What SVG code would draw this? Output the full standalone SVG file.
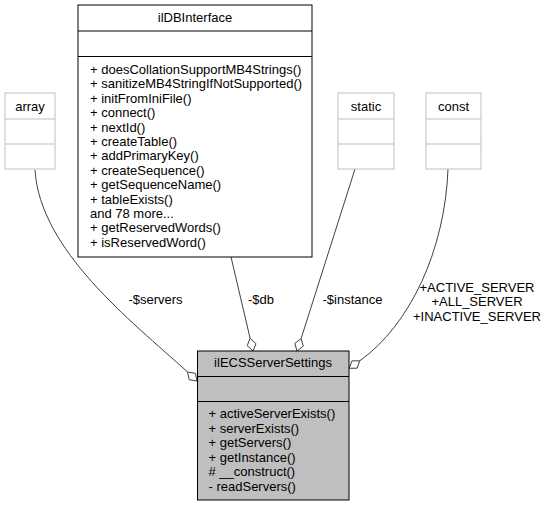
<svg xmlns="http://www.w3.org/2000/svg" width="549" height="507" viewBox="0 0 549 507">
<style>
text{font-family:"Liberation Sans",Arial,sans-serif;font-size:13px;fill:#000}
.c{text-anchor:middle}
.gbox{fill:#fff;stroke:#bfbfbf;stroke-width:1}
.bbox{fill:#fff;stroke:#000;stroke-width:1}
.main{fill:#bfbfbf;stroke:#000;stroke-width:1}
.edge{fill:none;stroke:#404040;stroke-width:1}
.dia{fill:#fff;stroke:#404040;stroke-width:1}
</style>
<rect width="549" height="507" fill="#fff"/>
<g id="connectors">
<path class="edge" d="M35,170 C40,250 130,320 187.6,372"/>
<polygon class="dia" points="187.6,372 195.4,373.3 197,381 189.2,379.7"/>
<path class="edge" d="M231,257 L250.1,338.3"/>
<polygon class="dia" points="250.1,338.3 256,343.7 253,351 247.2,345.7"/>
<path class="edge" d="M355,169 L301.1,338.6"/>
<polygon class="dia" points="301.1,338.6 303.3,346.2 297,351 294.8,343.4"/>
<path class="edge" d="M448,169 C445,250 410,325 359.8,360.8"/>
<polygon class="dia" points="359.8,360.8 357.1,368.2 349.2,368.3 351.9,360.9"/>
<text class="c" x="155.5" y="304">-$servers</text>
<text class="c" x="261" y="304">-$db</text>
<text class="c" x="352.5" y="304">-$instance</text>
<text class="c" x="477" y="291.5">+ACTIVE_SERVER</text>
<text class="c" x="477" y="306">+ALL_SERVER</text>
<text class="c" x="477" y="321">+INACTIVE_SERVER</text>
</g>
<g id="array">
<rect class="gbox" x="5" y="93" width="50" height="76"/>
<line class="gbox" x1="5" y1="119" x2="55" y2="119"/>
<line class="gbox" x1="5" y1="144" x2="55" y2="144"/>
<text class="c" x="30" y="110.5">array</text>
</g>
<g id="ilDBInterface">
<rect class="bbox" x="78" y="5" width="234" height="252"/>
<line class="bbox" x1="78" y1="31" x2="312" y2="31"/>
<line class="bbox" x1="78" y1="56.5" x2="312" y2="56.5"/>
<text class="c" x="195" y="21.5">ilDBInterface</text>
<text x="90" y="74">+ doesCollationSupportMB4Strings()</text>
<text x="90" y="88.4">+ sanitizeMB4StringIfNotSupported()</text>
<text x="90" y="102.8">+ initFromIniFile()</text>
<text x="90" y="117.2">+ connect()</text>
<text x="90" y="131.6">+ nextId()</text>
<text x="90" y="146">+ createTable()</text>
<text x="90" y="160.4">+ addPrimaryKey()</text>
<text x="90" y="174.8">+ createSequence()</text>
<text x="90" y="189.2">+ getSequenceName()</text>
<text x="90" y="203.6">+ tableExists()</text>
<text x="90" y="218">and 78 more...</text>
<text x="90" y="232.4">+ getReservedWords()</text>
<text x="90" y="246.8">+ isReservedWord()</text>
</g>
<g id="static">
<rect class="gbox" x="338" y="93" width="56" height="76"/>
<line class="gbox" x1="338" y1="119" x2="394" y2="119"/>
<line class="gbox" x1="338" y1="144" x2="394" y2="144"/>
<text class="c" x="366" y="110.5">static</text>
</g>
<g id="const">
<rect class="gbox" x="426" y="93" width="55" height="76"/>
<line class="gbox" x1="426" y1="119" x2="481" y2="119"/>
<line class="gbox" x1="426" y1="144" x2="481" y2="144"/>
<text class="c" x="453.5" y="110.5">const</text>
</g>
<g id="ilECSServerSettings">
<rect class="main" x="197.5" y="351" width="151.5" height="149"/>
<line class="main" x1="197.5" y1="376.5" x2="349" y2="376.5"/>
<line class="main" x1="197.5" y1="401.5" x2="349" y2="401.5"/>
<text class="c" x="273" y="367">ilECSServerSettings</text>
<text x="208.5" y="418">+ activeServerExists()</text>
<text x="208.5" y="432.5">+ serverExists()</text>
<text x="208.5" y="447">+ getServers()</text>
<text x="208.5" y="461.5">+ getInstance()</text>
<text x="208.5" y="476"># __construct()</text>
<text x="208.5" y="490.5">- readServers()</text>
</g>
</svg>
